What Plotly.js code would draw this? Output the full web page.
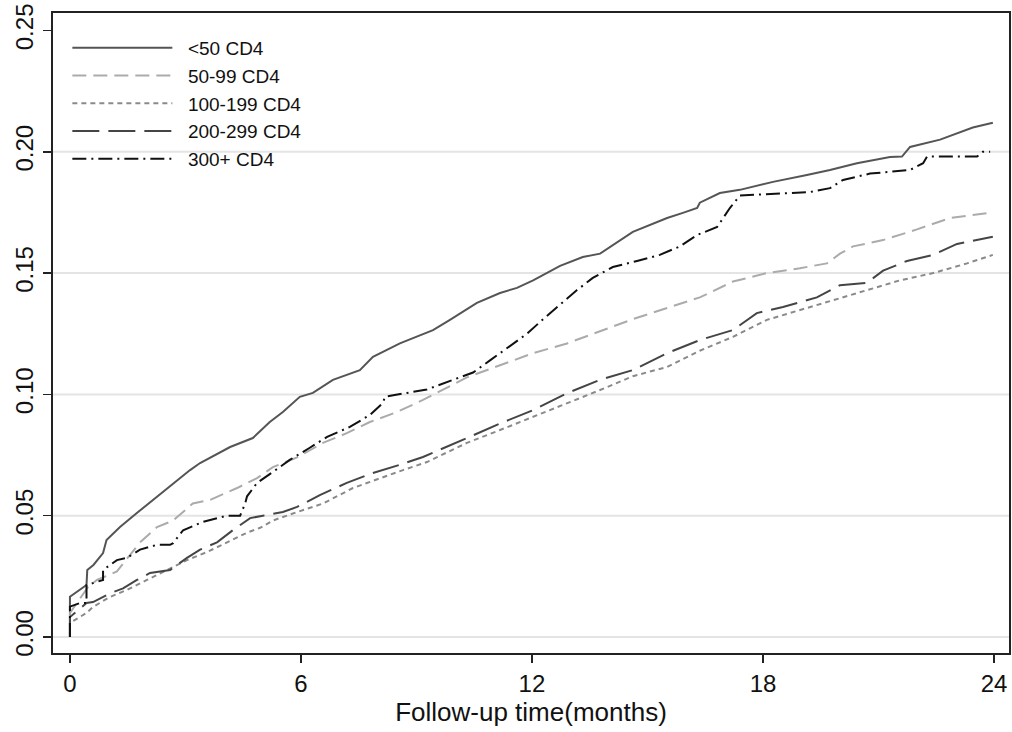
<!DOCTYPE html>
<html>
<head>
<meta charset="utf-8">
<script src="https://cdn.plot.ly/plotly-3.0.1.min.js"></script>
<style>
  html, body { margin: 0; padding: 0; background: #fff; }
  #chart { width: 1012px; height: 732px; }
</style>
</head>
<body>
<div id="chart"></div>
<script>
// Cumulative incidence by baseline CD4 group over 24 months of follow-up

const seriesNames = ["<50 CD4", "50-99 CD4", "100-199 CD4", "200-299 CD4", "300+ CD4"];

// <50 CD4
const t_lt50 = [0, 0, 0.43, 0.45, 0.61, 0.86, 0.95, 1.30, 1.73, 2.16, 2.60, 3.12, 3.38, 4.16, 4.75, 5.19, 5.53, 5.97, 6.31, 6.83, 7.53, 7.87, 8.57, 9.43, 9.87, 10.57, 11.17, 11.61, 12.03, 12.73, 13.32, 13.77, 14.62, 15.06, 15.51, 15.92, 16.29, 16.36, 16.88, 17.40, 18.26, 19.14, 19.74, 20.44, 21.30, 21.61, 21.82, 22.60, 23.45, 23.97];
const v_lt50 = [0, 0.0166, 0.0214, 0.0276, 0.0297, 0.0346, 0.040, 0.0453, 0.051, 0.0565, 0.0618, 0.0688, 0.0717, 0.0783, 0.082, 0.0886, 0.0927, 0.099, 0.1006, 0.106, 0.110, 0.1155, 0.121, 0.1265, 0.1307, 0.1377, 0.1418, 0.1439, 0.147, 0.153, 0.1566, 0.158, 0.167, 0.1698, 0.1727, 0.1748, 0.1768, 0.179, 0.183, 0.1843, 0.1876, 0.1904, 0.1925, 0.1953, 0.1978, 0.198, 0.202, 0.205, 0.210, 0.212];

// 50-99 CD4
const t_50_99 = [0, 0, 0.47, 0.70, 1.22, 1.82, 2.26, 2.68, 3.19, 3.64, 4.34, 4.86, 5.27, 5.90, 6.57, 7.19, 7.79, 8.49, 9.17, 10.31, 11.17, 12.03, 12.91, 13.77, 14.62, 15.51, 16.36, 17.22, 18.10, 18.96, 19.66, 20.00, 20.34, 21.12, 22.00, 22.86, 23.97];
const v_50_99 = [0, 0.0099, 0.0206, 0.0235, 0.027, 0.039, 0.0453, 0.048, 0.055, 0.0565, 0.0614, 0.0655, 0.070, 0.074, 0.080, 0.084, 0.0886, 0.0927, 0.0977, 0.107, 0.112, 0.117, 0.121, 0.126, 0.131, 0.1356, 0.140, 0.1465, 0.150, 0.152, 0.154, 0.158, 0.161, 0.1636, 0.168, 0.1727, 0.175];

// 100-199 CD4
const t_100_199 = [0, 0, 0.43, 0.60, 1.04, 1.48, 2.00, 2.52, 3.04, 3.56, 4.08, 4.60, 4.94, 5.27, 5.90, 6.57, 7.35, 8.05, 8.65, 9.27, 10.31, 11.17, 12.03, 12.91, 13.77, 14.62, 15.51, 16.36, 17.22, 18.10, 18.96, 19.82, 20.70, 21.56, 22.42, 23.30, 23.97];
const v_100_199 = [0, 0.0058, 0.0099, 0.0124, 0.0165, 0.0194, 0.0235, 0.0276, 0.0317, 0.035, 0.039, 0.043, 0.045, 0.048, 0.0515, 0.055, 0.0614, 0.0655, 0.0688, 0.0721, 0.080, 0.0853, 0.0907, 0.0965, 0.1018, 0.1075, 0.1113, 0.118, 0.1237, 0.1307, 0.1348, 0.139, 0.143, 0.147, 0.150, 0.154, 0.1575];

// 200-299 CD4
const t_200_299 = [0, 0, 0.43, 0.60, 1.04, 1.38, 1.74, 2.08, 2.60, 3.04, 3.38, 3.82, 4.23, 4.68, 5.01, 5.53, 5.90, 6.49, 7.19, 7.87, 8.57, 9.17, 10.31, 11.17, 12.03, 12.91, 13.77, 14.62, 15.51, 16.36, 17.22, 17.84, 18.52, 19.40, 20.00, 20.70, 21.12, 21.74, 22.42, 23.04, 23.97];
const v_200_299 = [0, 0.0082, 0.014, 0.0144, 0.018, 0.020, 0.0235, 0.0264, 0.0276, 0.0326, 0.036, 0.039, 0.044, 0.049, 0.050, 0.0515, 0.0536, 0.0585, 0.0635, 0.0676, 0.071, 0.0742, 0.082, 0.088, 0.0935, 0.1005, 0.106, 0.110, 0.117, 0.1224, 0.1265, 0.1335, 0.136, 0.140, 0.145, 0.146, 0.151, 0.155, 0.1575, 0.162, 0.165];

// 300+ CD4
const t_300p = [0, 0, 0.26, 0.43, 0.43, 0.86, 0.86, 1.22, 1.48, 1.82, 2.26, 2.60, 2.68, 2.94, 3.45, 4.08, 4.42, 4.55, 4.60, 4.86, 5.27, 5.71, 6.23, 6.68, 7.27, 7.79, 8.13, 8.18, 8.75, 9.27, 9.95, 10.47, 10.91, 11.43, 11.87, 12.29, 12.73, 13.17, 13.58, 14.10, 14.73, 15.32, 15.84, 16.29, 16.81, 17.14, 17.40, 19.22, 19.74, 20.08, 20.78, 21.82, 22.16, 22.26, 23.56, 23.71, 23.90];
const v_300p = [0, 0.0125, 0.014, 0.014, 0.0214, 0.0235, 0.0276, 0.0317, 0.0326, 0.036, 0.038, 0.038, 0.0387, 0.044, 0.0474, 0.050, 0.050, 0.055, 0.058, 0.0635, 0.068, 0.073, 0.078, 0.0825, 0.0866, 0.0915, 0.0965, 0.099, 0.1006, 0.102, 0.106, 0.109, 0.114, 0.120, 0.125, 0.131, 0.137, 0.143, 0.148, 0.1525, 0.155, 0.1575, 0.161, 0.1657, 0.169, 0.1768, 0.182, 0.1834, 0.185, 0.1884, 0.191, 0.1925, 0.1953, 0.198, 0.198, 0.200, 0.200];

const xTicks = [0, 6, 12, 18, 24];
const xTickText = ["0", "6", "12", "18", "24"];
const yTicks = [0, 0.05, 0.10, 0.15, 0.20, 0.25];
const yTickText = ["0.00", "0.05", "0.10", "0.15", "0.20", "0.25"];
// horizontal reference lines (none at the top tick)
const gridLevels = [0, 0.05, 0.10, 0.15, 0.20];

const FONT = "Liberation Sans, Arial, Helvetica, sans-serif";

const styles = [
  { color: "#555555", dash: "solid" },
  { color: "#ababab", dash: "14px,7px" },
  { color: "#8a8a8a", dash: "5px,4px" },
  { color: "#454545", dash: "27px,9px" },
  { color: "#111111", dash: "14px,5px,2px,5px" }
];

const xs = [t_lt50, t_50_99, t_100_199, t_200_299, t_300p];
const ys = [v_lt50, v_50_99, v_100_199, v_200_299, v_300p];

// legend labels sit a little further from their line samples
const GAP = "\u00a0\u00a0";

const traces = seriesNames.map((name, i) => ({
  type: "scatter",
  mode: "lines",
  name: GAP + name,
  x: xs[i],
  y: ys[i],
  line: { color: styles[i].color, dash: styles[i].dash, width: 2, shape: "linear" },
  hoverinfo: "skip"
}));

const gridShapes = gridLevels.map(v => ({
  type: "line", layer: "below",
  xref: "paper", x0: 0, x1: 1,
  yref: "y", y0: v, y1: v,
  line: { color: "#e4e4e4", width: 2 }
}));

const layout = {
  width: 1012,
  height: 732,
  margin: { l: 53, r: 3, t: 13, b: 79, pad: 0 },
  paper_bgcolor: "#ffffff",
  plot_bgcolor: "#ffffff",
  font: { family: FONT, color: "#111111", size: 20 },
  showlegend: true,
  legend: {
    x: 0.015, y: 0.975, xanchor: "left", yanchor: "top",
    bgcolor: "rgba(0,0,0,0)", borderwidth: 0,
    font: { family: FONT, size: 19, color: "#111111" },
    itemwidth: 100,
    tracegroupgap: 0
  },
  shapes: gridShapes,
  xaxis: {
    range: [-0.44, 24.39],
    tickmode: "array", tickvals: xTicks, ticktext: xTickText,
    ticks: "outside", ticklen: 8, tickwidth: 1.5, tickcolor: "#222",
    showgrid: false, zeroline: false,
    showline: true, linecolor: "#222", linewidth: 2, mirror: true,
    tickfont: { family: FONT, size: 24, color: "#111" },
    title: { text: "Follow-up time(months)", font: { family: FONT, size: 26, color: "#111" }, standoff: 1 }
  },
  yaxis: {
    range: [-0.0066, 0.2572],
    tickmode: "array", tickvals: yTicks, ticktext: yTickText,
    ticks: "outside", ticklen: 8, tickwidth: 1.5, tickcolor: "#222",
    tickangle: -90,
    showgrid: false,
    zeroline: false,
    showline: true, linecolor: "#222", linewidth: 2, mirror: true,
    tickfont: { family: FONT, size: 24, color: "#111" }
  }
};

Plotly.newPlot("chart", traces, layout, { staticPlot: true, displayModeBar: false });
</script>
</body>
</html>
